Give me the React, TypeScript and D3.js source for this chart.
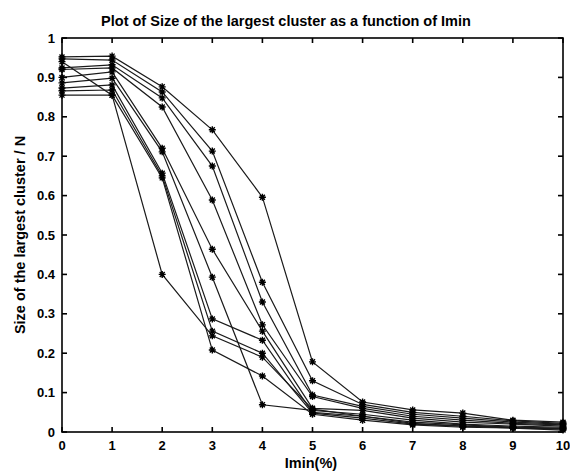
import React from "react";
import * as d3 from "d3";

// Imin(%) values on the x axis
const imin = [0, 1, 2, 3, 4, 5, 6, 7, 8, 9, 10];

// one array per run, size of the largest cluster / N
const run1 = [0.952, 0.954, 0.876, 0.767, 0.596, 0.178, 0.076, 0.056, 0.048, 0.03, 0.025];
const run2 = [0.947, 0.944, 0.863, 0.713, 0.38, 0.13, 0.07, 0.05, 0.04, 0.028, 0.022];
const run3 = [0.924, 0.932, 0.848, 0.675, 0.33, 0.094, 0.065, 0.045, 0.035, 0.025, 0.02];
const run4 = [0.92, 0.924, 0.825, 0.589, 0.272, 0.09, 0.06, 0.04, 0.03, 0.022, 0.018];
const run5 = [0.9, 0.914, 0.72, 0.464, 0.256, 0.06, 0.055, 0.035, 0.025, 0.02, 0.015];
const run6 = [0.886, 0.898, 0.711, 0.393, 0.069, 0.055, 0.045, 0.03, 0.02, 0.015, 0.012];
const run7 = [0.873, 0.881, 0.657, 0.287, 0.233, 0.05, 0.04, 0.025, 0.018, 0.012, 0.01];
const run8 = [0.866, 0.868, 0.65, 0.256, 0.2, 0.048, 0.035, 0.02, 0.015, 0.01, 0.008];
const run9 = [0.855, 0.855, 0.645, 0.208, 0.142, 0.045, 0.03, 0.018, 0.012, 0.01, 0.005];
const run10 = [0.94, 0.855, 0.4, 0.244, 0.19, 0.058, 0.04, 0.022, 0.015, 0.012, 0.008];
const runs = [run1, run2, run3, run4, run5, run6, run7, run8, run9, run10];

const yTicks = [0, 0.1, 0.2, 0.3, 0.4, 0.5, 0.6, 0.7, 0.8, 0.9, 1];

const W = 570, H = 472;
const margin = { top: 38, right: 7, bottom: 40, left: 62 };

const Star = ({ x, y }: { x: number; y: number }) => {
    const r = 3.5, d = 2.5;
    return (
        <path
            d={`M${x - r},${y}H${x + r}M${x},${y - r}V${y + r}M${x - d},${y - d}L${x + d},${y + d}M${x - d},${y + d}L${x + d},${y - d}`}
            stroke="#000"
            strokeWidth={1.4}
        />
    );
};

const App = () => {
    const x = d3.scaleLinear().domain([0, 10]).range([margin.left, W - margin.right]);
    const y = d3.scaleLinear().domain([0, 1]).range([H - margin.bottom, margin.top]);
    const line = d3.line<number>().x((_, i) => x(imin[i])).y(d => y(d));
    const font = "'Liberation Sans', Arial, sans-serif";
    const x0 = x(0), x1 = x(10), yb = y(0), yt = y(1);

    return (
        <svg width={W} height={H} style={{ position: "absolute", left: 0, top: 0, background: "#fff" }} fontFamily={font}>
            <rect x={0} y={0} width={W} height={H} fill="#fff" />
            {/* series */}
            <g>
                {runs.map((r, k) => (
                    <path key={k} d={line(r) || ""} fill="none" stroke="#1a1a1a" strokeWidth={1.2} />
                ))}
                {runs.map((r, k) =>
                    r.map((v, i) => <Star key={k + "-" + i} x={x(imin[i])} y={y(v)} />)
                )}
            </g>
            {/* frame */}
            <rect x={x0} y={yt} width={x1 - x0} height={yb - yt} fill="none" stroke="#000" strokeWidth={1.6} />
            {/* x ticks */}
            {imin.map(t => (
                <g key={"xt" + t}>
                    <line x1={x(t)} x2={x(t)} y1={yb} y2={yb - 5} stroke="#000" strokeWidth={1.6} />
                    <line x1={x(t)} x2={x(t)} y1={yt} y2={yt + 5} stroke="#000" strokeWidth={1.6} />
                    <text x={x(t)} y={yb + 18} textAnchor="middle" fontSize={13} fontWeight="bold">{t}</text>
                </g>
            ))}
            {/* y ticks */}
            {yTicks.map(t => (
                <g key={"yt" + t}>
                    <line x1={x0} x2={x0 + 5} y1={y(t)} y2={y(t)} stroke="#000" strokeWidth={1.6} />
                    <line x1={x1} x2={x1 - 5} y1={y(t)} y2={y(t)} stroke="#000" strokeWidth={1.6} />
                    <text x={x0 - 7} y={y(t) + 4.5} textAnchor="end" fontSize={13} fontWeight="bold">{t}</text>
                </g>
            ))}
            <text x={286} y={26} textAnchor="middle" fontSize={14.5} fontWeight="bold">
                Plot of Size of the largest cluster as a function of Imin
            </text>
            <text x={311} y={468} textAnchor="middle" fontSize={14.5} fontWeight="bold">Imin(%)</text>
            <text transform={`translate(25,${(yt + yb) / 2}) rotate(-90)`} textAnchor="middle" fontSize={14.5} fontWeight="bold">
                Size of the largest cluster / N
            </text>
        </svg>
    );
};

export default App;
